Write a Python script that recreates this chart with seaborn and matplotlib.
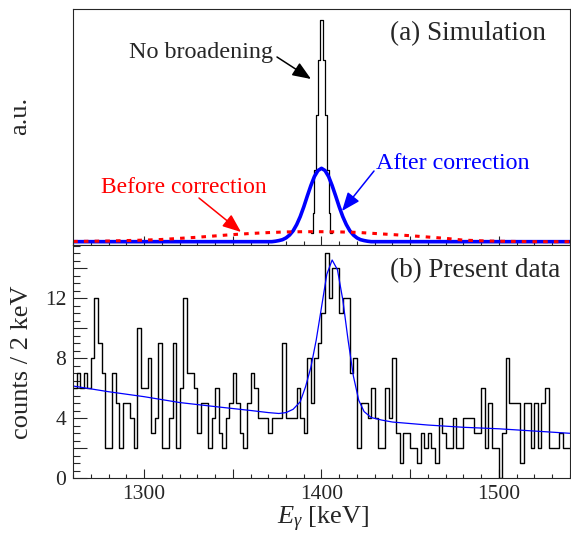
import numpy as np
import pandas as pd
import matplotlib
matplotlib.use('Agg')
import matplotlib.pyplot as plt
from matplotlib.ticker import MultipleLocator, FuncFormatter
import seaborn as sns

# (b) present data: counts per 2 keV bin, 1260 - 1540 keV
data_edges = np.arange(1260, 1542, 2)
data_counts = [6, 7, 6, 7, 6, 8, 12, 9, 7, 2,
               2, 7, 5, 2, 5, 5, 4, 2, 10, 6,
               6, 8, 3, 4, 9, 2, 2, 4, 9, 2,
               6, 12, 7, 7, 6, 3, 5, 5, 2, 4,
               6, 3, 2, 4, 5, 7, 5, 3, 2, 5,
               7, 6, 4, 4, 4, 3, 4, 4, 4, 9,
               4, 4, 4, 6, 4, 3, 8, 5, 8, 9,
               11, 15, 12, 14, 14, 11, 12, 12, 7, 8,
               2, 5, 5, 4, 6, 4, 2, 2, 6, 4,
               8, 3, 1, 3, 3, 2, 2, 1, 3, 2,
               3, 2, 1, 4, 3, 2, 2, 4, 2, 2,
               4, 4, 4, 3, 3, 6, 2, 5, 2, 2,
               0, 3, 8, 5, 5, 5, 1, 5, 5, 2,
               5, 2, 5, 6, 2, 2, 2, 3, 2, 2]

# fitted curve
fit_energy = [1260, 1280, 1300, 1320, 1340, 1360, 1370, 1376, 1380, 1384,
              1388, 1391, 1394, 1397, 1400, 1403, 1406, 1409, 1412, 1415,
              1418, 1421, 1424, 1428, 1434, 1440, 1460, 1480, 1500, 1520, 1540]
fit_counts = [6.15, 5.77, 5.44, 5.05, 4.78, 4.52, 4.38, 4.32, 4.38, 4.6,
              5.1, 6.1, 7.4, 9.2, 11.4, 13.6, 14.55, 13.9, 11.9, 9.2,
              6.8, 5.2, 4.45, 4.05, 3.88, 3.75, 3.55, 3.4, 3.3, 3.15, 3.0]

# (a) simulation, arbitrary units
sim_edges = np.arange(1394, 1407, 1)
no_broadening = [0.039, 0.128, 0.323, 0.571, 0.82, 1.0,
                 1.0, 0.82, 0.571, 0.323, 0.128, 0.039]

after_energy = [1260, 1372, 1374, 1376, 1378, 1380, 1382, 1384, 1386, 1388,
                1390, 1392, 1394, 1396, 1398, 1400, 1402, 1404, 1406, 1408,
                1410, 1412, 1414, 1416, 1418, 1420, 1422, 1424, 1426, 1428, 1540]
after_corr = [0, 0, 0.002, 0.005, 0.009, 0.017, 0.030, 0.049, 0.077, 0.113,
              0.157, 0.206, 0.253, 0.294, 0.321, 0.331, 0.321, 0.294, 0.253, 0.206,
              0.157, 0.113, 0.077, 0.049, 0.030, 0.017, 0.009, 0.005, 0.002, 0, 0]

before_energy = [1260, 1270, 1280, 1290, 1300, 1310, 1320, 1330, 1340, 1350,
                 1360, 1370, 1380, 1390, 1400, 1410, 1420, 1430, 1440, 1450,
                 1460, 1470, 1480, 1490, 1500, 1510, 1520, 1530, 1540]
before_corr = [0.001, 0.002, 0.003, 0.005, 0.007, 0.010, 0.015, 0.020, 0.026, 0.032,
               0.037, 0.041, 0.044, 0.045, 0.045, 0.044, 0.042, 0.037, 0.032, 0.027,
               0.021, 0.015, 0.007, 0.004, 0.002, 0.001, 0.0, 0.0, 0.0]

data_df = pd.DataFrame({'energy': (data_edges[:-1] + data_edges[1:]) / 2,
                        'counts': data_counts})
sim_df = pd.DataFrame({'energy': (sim_edges[:-1] + sim_edges[1:]) / 2,
                       'value': no_broadening})

sns.set_style('ticks')
plt.rcParams['font.family'] = ['Liberation Serif', 'DejaVu Serif']
plt.rcParams['mathtext.fontset'] = 'custom'
plt.rcParams['mathtext.rm'] = 'Liberation Serif'
plt.rcParams['mathtext.it'] = 'Liberation Serif:italic'

W, H = 571, 536
fig = plt.figure(figsize=(W / 100, H / 100), dpi=100)
L, R = 73.2 / W, 569.8 / W
ax1 = fig.add_axes([L, 1 - 245 / H, R - L, (245 - 9) / H])
ax2 = fig.add_axes([L, 1 - 478.3 / H, R - L, (478.3 - 245) / H], sharex=ax1)

# top panel
sns.histplot(data=sim_df, x='energy', weights='value', binwidth=1,
             binrange=(sim_edges[0], sim_edges[-1]),
             element='step', fill=False, color='black', linewidth=0.9, ax=ax1)
sns.lineplot(x=after_energy, y=after_corr, color='#0000ff', linewidth=2.6, ax=ax1)
sns.lineplot(x=before_energy, y=before_corr, color='#ff0000', linewidth=2.2, ax=ax1)
ax1.lines[-1].set_dashes((1.5, 2.0))
ax1.set_ylim(-0.015, 1.05)

# bottom panel
sns.histplot(data=data_df, x='energy', weights='counts', binwidth=2,
             binrange=(data_edges[0], data_edges[-1]),
             element='step', fill=False, color='black', linewidth=1.0, ax=ax2)
sns.lineplot(x=fit_energy, y=fit_counts, color='#0000ff', linewidth=0.9, ax=ax2)
ax2.set_ylim(0, 15.55)
ax2.set_xlim(1260, 1540)

for ax in (ax1, ax2):
    ax.set_xlabel('')
    ax.set_ylabel('')
    for s in ax.spines.values():
        s.set_linewidth(0.8)
    ax.xaxis.set_major_locator(MultipleLocator(50))
    ax.xaxis.set_minor_locator(MultipleLocator(10))
    ax.tick_params(which='both', direction='in', top=False, right=False, width=0.8)
    ax.tick_params(axis='x', which='major', length=6.5)
    ax.tick_params(axis='x', which='minor', length=3.2)

ax1.tick_params(axis='y', which='both', left=False, labelleft=False)
ax1.tick_params(axis='x', labelbottom=False)

ax2.xaxis.set_major_formatter(FuncFormatter(lambda v, p: f'{v:.0f}' if v % 100 == 0 else ''))
ax2.yaxis.set_major_locator(MultipleLocator(2))
ax2.yaxis.set_minor_locator(MultipleLocator(0.5))
ax2.yaxis.set_major_formatter(FuncFormatter(lambda v, p: f'{v:.0f}' if v % 4 == 0 else ''))
ax2.tick_params(axis='y', which='major', length=10, pad=5, labelsize=15.5)
ax2.tick_params(axis='y', which='minor', length=5)
ax2.tick_params(axis='x', which='major', pad=5, labelsize=15.5)


def fp(x, y):
    return x / W, 1 - y / H


fig.text(*fp(20, 116), 'a.u.', rotation=90, ha='center', va='center', fontsize=19)
fig.text(*fp(28, 362), 'counts / 2 keV', rotation=90, rotation_mode='anchor',
         ha='center', va='baseline', fontsize=19)
fig.text(*fp(323, 524), r'$E_{\gamma}$ [keV]', ha='center', va='baseline', fontsize=19)

fig.text(*fp(129, 58), 'No broadening', ha='left', va='baseline', fontsize=17.4)
fig.text(*fp(390, 40), '(a) Simulation', ha='left', va='baseline', fontsize=19.5)
fig.text(*fp(376, 169), 'After correction', ha='left', va='baseline', fontsize=17.3,
         color='#0000ff')
fig.text(*fp(100.7, 192.7), 'Before correction', ha='left', va='baseline', fontsize=17,
         color='#ff0000')
fig.text(*fp(390, 276.7), '(b) Present data', ha='left', va='baseline', fontsize=19.5)

arrows = [((277, 57), (311, 79), 'black'),
          ((374, 171), (342, 211), '#0000ff'),
          ((199, 198), (241, 232), '#ff0000')]
for (x0, y0), (x1, y1), c in arrows:
    ax1.annotate('', xy=(x1, H - y1), xycoords='figure pixels',
                 xytext=(x0, H - y0), textcoords='figure pixels',
                 arrowprops=dict(arrowstyle='-|>,head_length=0.75,head_width=0.3',
                                 color=c, lw=1.1, shrinkA=0, shrinkB=0,
                                 mutation_scale=15))

fig.savefig('out.png', dpi=100)
